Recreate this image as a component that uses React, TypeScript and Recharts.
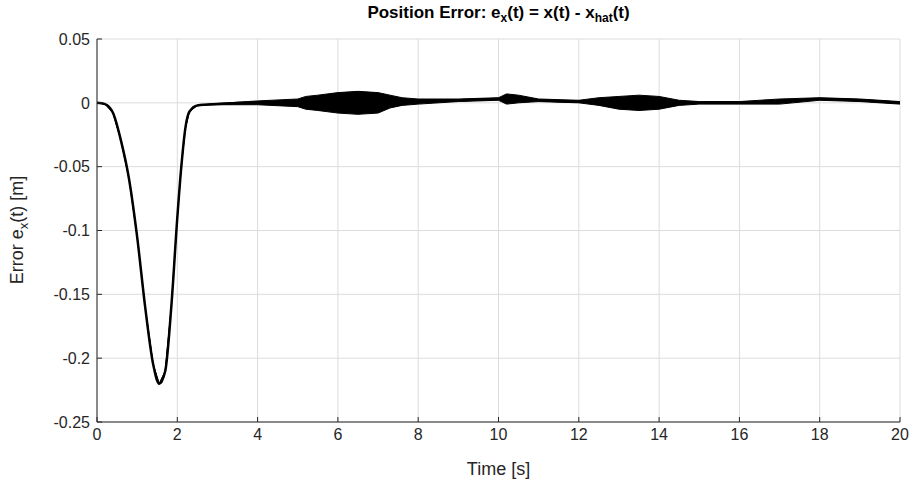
import React from "react";
import { ComposedChart, Line, Area, XAxis, YAxis, CartesianGrid } from "recharts";

const times = [0, 0.2, 0.4, 0.6, 0.8, 1.0, 1.2, 1.4, 1.55, 1.7, 1.85, 2.0, 2.1, 2.2, 2.3, 2.5, 3, 4, 5, 5.2, 5.5, 6, 6.5, 7, 7.3, 7.6, 8, 9, 10, 10.2, 10.5, 11, 12, 12.5, 13, 13.5, 14, 14.5, 15, 16, 17, 18, 19, 20];
const errors = [0, -0.001, -0.008, -0.03, -0.06, -0.105, -0.16, -0.205, -0.22, -0.21, -0.16, -0.09, -0.05, -0.02, -0.007, -0.002, -0.001, 0, 0, 0, 0, 0, 0, 0, 0.001, 0.001, 0.001, 0.002, 0.003, 0.003, 0.003, 0.002, 0.001, 0.001, 0, 0, 0, 0, 0, 0, 0.001, 0.003, 0.002, 0];
const noiseHalf = [0, 0, 0, 0, 0, 0, 0, 0, 0, 0, 0, 0, 0, 0, 0, 0, 0.0005, 0.0015, 0.003, 0.005, 0.006, 0.008, 0.009, 0.008, 0.005, 0.003, 0.002, 0.001, 0.001, 0.004, 0.003, 0.001, 0.001, 0.003, 0.005, 0.006, 0.005, 0.002, 0.001, 0.001, 0.002, 0.001, 0.001, 0.001];
const xTicks = [0, 2, 4, 6, 8, 10, 12, 14, 16, 18, 20];
const yTicks = [0.05, 0, -0.05, -0.1, -0.15, -0.2, -0.25];

const data = times.map((t, i) => ({ t, e: errors[i], band: [errors[i] - noiseHalf[i], errors[i] + noiseHalf[i]] }));

const font = "'Liberation Sans', Arial, sans-serif";
const tick = { fontSize: 16, fill: "#262626", fontFamily: font };

export default function App() {
  return (
    <div style={{ position: "absolute", top: 0, left: 0, width: 914, height: 488, background: "#fff", fontFamily: font }}>
      <ComposedChart width={914} height={488} data={data} margin={{ top: 39, right: 14, bottom: 36, left: 37 }} style={{ overflow: "visible" }}>
        <CartesianGrid stroke="#dcdcdc" vertical horizontal />
        <XAxis dataKey="t" type="number" domain={[0, 20]} ticks={xTicks} tick={tick} height={30}
          stroke="#262626" tickSize={-5} tickMargin={12} />
        <YAxis type="number" domain={[-0.25, 0.05]} ticks={yTicks} tick={tick} width={60}
          stroke="#262626" tickSize={-5} tickMargin={12} tickFormatter={(v) => String(v)} />
        <XAxis xAxisId="top" orientation="top" dataKey="t" type="number" domain={[0, 20]} ticks={xTicks} tick={false} stroke="#262626" tickSize={-5} height={0} />
        <YAxis yAxisId="right" orientation="right" type="number" domain={[-0.25, 0.05]} ticks={yTicks} tick={false} stroke="#262626" tickSize={-5} width={0} />
        <Area dataKey="band" type="linear" stroke="#000" strokeWidth={1} fill="#000" fillOpacity={1} isAnimationActive={false} dot={false} />
        <Line dataKey="e" type="monotone" stroke="#000" strokeWidth={2.5} dot={false} isAnimationActive={false} />
      </ComposedChart>
      <div style={{ position: "absolute", top: 3, left: 97, width: 803, textAlign: "center", fontWeight: "bold", fontSize: 17, lineHeight: "20px", color: "#000" }}>
        Position Error: e<sub style={{ fontSize: 12, lineHeight: 0 }}>x</sub>(t) = x(t) - x<sub style={{ fontSize: 12, lineHeight: 0 }}>hat</sub>(t)
      </div>
      <div style={{ position: "absolute", top: 458, left: 97, width: 803, textAlign: "center", fontSize: 18, lineHeight: "22px", color: "#262626" }}>
        Time [s]
      </div>
      <div style={{ position: "absolute", left: 19, top: 230, width: 0, height: 0 }}>
        <div style={{ position: "absolute", transform: "translate(-50%,-50%) rotate(-90deg)", whiteSpace: "nowrap", fontSize: 18, color: "#262626" }}>
          Error e<sub style={{ fontSize: 13 }}>x</sub>(t) [m]
        </div>
      </div>
    </div>
  );
}
